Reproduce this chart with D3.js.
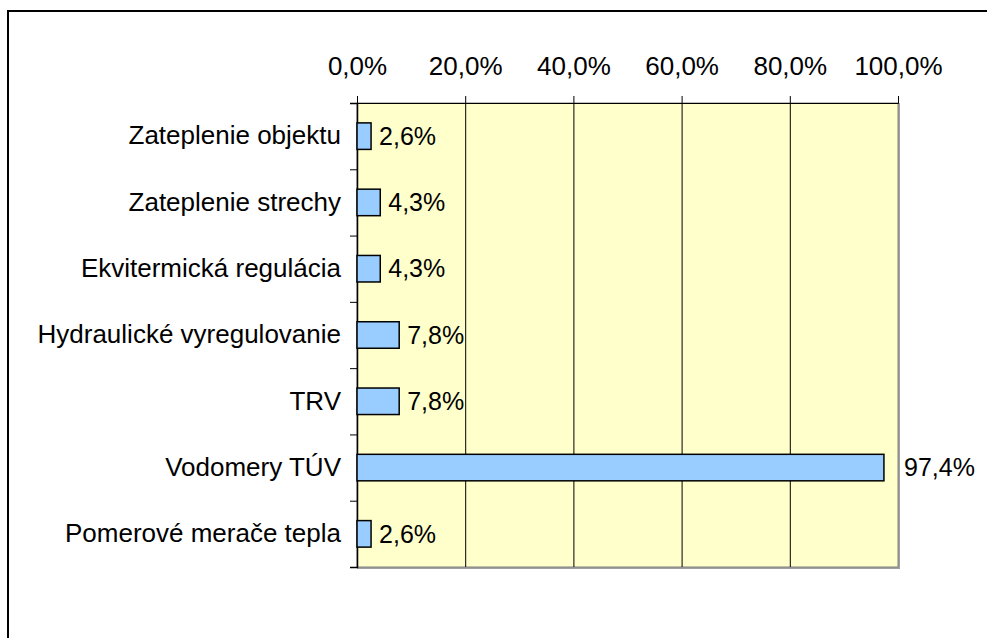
<!DOCTYPE html>
<html>
<head>
<meta charset="utf-8">
<script src="https://cdn.jsdelivr.net/npm/d3@7"></script>
<style>
  body { margin: 0; background: #fff; }
  svg text { font-family: "Liberation Sans", Arial, sans-serif; fill: #000; }
</style>
</head>
<body>
<div id="chart"></div>
<script>
// chart data
const categories = ["Zateplenie objektu", "Zateplenie strechy", "Ekvitermická regulácia",
    "Hydraulické vyregulovanie", "TRV", "Vodomery TÚV", "Pomerové merače tepla"];
const values = [2.6, 4.3, 4.3, 7.8, 7.8, 97.4, 2.6];
const xTicks = [0, 20, 40, 60, 80, 100];

const WIDTH = 987, HEIGHT = 638;
const margin = {top: 103, left: 357};
const plot_w = 541, plot_h = 464;
const fontSize = 26;

// comma decimal like the original
const fmt = v => v.toFixed(1).replace(".", ",") + "%";

let svg = d3.select("#chart")
    .append("svg")
    .attr("width", WIDTH)
    .attr("height", HEIGHT);

// outer frame (right/bottom go off the page)
svg.append("rect")
    .attr("x", 8).attr("y", 11)
    .attr("width", 1200).attr("height", 900)
    .attr("fill", "none")
    .attr("stroke", "#000")
    .attr("stroke-width", 2);

let g = svg.append("g")
    .attr("transform", `translate(${margin.left},${margin.top})`);

let x = d3.scaleLinear().domain([0, 100]).range([0, plot_w]);
let y = d3.scaleBand().domain(categories).range([0, plot_h]).paddingInner(0.6).paddingOuter(0.3);
let yEdge = d3.scaleLinear().domain([0, categories.length]).range([0, plot_h]);

// plot area with grey shadowed border
g.append("rect")
    .attr("x", 1).attr("y", 1)
    .attr("width", plot_w).attr("height", plot_h)
    .attr("fill", "none")
    .attr("stroke", "#a0a0a0")
    .attr("stroke-width", 2);
g.append("rect")
    .attr("width", plot_w).attr("height", plot_h)
    .attr("fill", "#ffffcc")
    .attr("stroke", "#808080")
    .attr("stroke-width", 1);

// vertical gridlines
g.selectAll("line.grid")
    .data(xTicks.slice(1, -1))
    .enter().append("line")
    .attr("class", "grid")
    .attr("x1", d => x(d) + 0.5).attr("x2", d => x(d) + 0.5)
    .attr("y1", 0).attr("y2", plot_h)
    .attr("stroke", "#000")
    .attr("stroke-width", 1);

// top axis
let xAxis = g.append("g")
    .call(d3.axisTop(x).tickValues(xTicks).tickSize(7).tickPadding(21).tickFormat(fmt));
xAxis.select(".domain").attr("stroke", "#000");
xAxis.selectAll("text").style("font-size", fontSize + "px");

// left axis ticks at band edges
let yTicks = g.append("g")
    .call(d3.axisLeft(yEdge).tickValues(d3.range(categories.length + 1)).tickSize(7).tickFormat(""));
yTicks.select(".domain").attr("stroke-width", 1.5);

// category labels
let yLabels = g.append("g")
    .call(d3.axisLeft(y).tickSize(0).tickPadding(16));
yLabels.select(".domain").remove();
yLabels.selectAll("text").style("font-size", fontSize + "px");

// bars
g.selectAll("rect.bar")
    .data(values)
    .enter().append("rect")
    .attr("class", "bar")
    .attr("x", 0)
    .attr("y", (d, i) => y(categories[i]))
    .attr("width", d => x(d))
    .attr("height", y.bandwidth())
    .attr("fill", "#99ccff")
    .attr("stroke", "#000")
    .attr("stroke-width", 1.5);

// value labels, kept clear of the plot border
g.selectAll("text.val")
    .data(values)
    .enter().append("text")
    .attr("class", "val")
    .attr("x", d => x(d) + 8 > plot_w - 30 ? plot_w + 6 : x(d) + 8)
    .attr("y", (d, i) => y(categories[i]) + y.bandwidth() / 2)
    .attr("dy", "0.35em")
    .style("font-size", "25px")
    .text(fmt);
</script>
</body>
</html>
